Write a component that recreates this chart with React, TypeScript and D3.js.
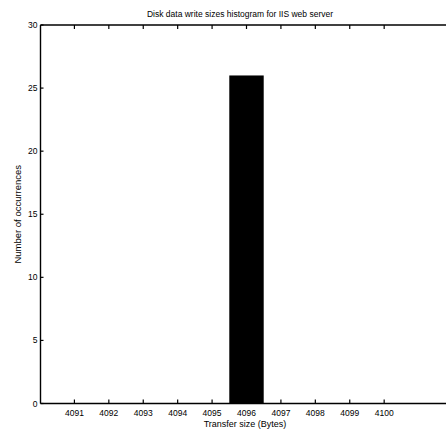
import React from "react";
import * as d3 from "d3";

const binCenters = [4091, 4092, 4093, 4094, 4095, 4096, 4097, 4098, 4099, 4100];
const counts = [0, 0, 0, 0, 0, 26, 0, 0, 0, 0];
const yTicks = [0, 5, 10, 15, 20, 25, 30];
const title = "Disk data write sizes histogram for IIS web server";
const xLabel = "Transfer size (Bytes)";
const yLabel = "Number of occurrences";

const W = 446;
const H = 436;
const left = 40.5;
const top = 25;
const bottom = 403.5;
const rightFull = 453;

export default function App() {
  const x = d3.scaleLinear().domain([4090, 4102]).range([40, rightFull]);
  const y = d3.scaleLinear().domain([0, 30]).range([bottom, top]);
  const font = "'Liberation Sans', Arial, sans-serif";
  return (
    <svg
      width={W}
      height={H}
      style={{ position: "absolute", left: 0, top: 0, background: "#fff" }}
      fontFamily={font}
    >
      <rect x={0} y={0} width={W} height={H} fill="#fff" />
      {binCenters.map((c, i) =>
        counts[i] > 0 ? (
          <rect
            key={c}
            x={x(c - 0.5)}
            y={y(counts[i])}
            width={x(c + 0.5) - x(c - 0.5)}
            height={y(0) - y(counts[i])}
            fill="#000"
          />
        ) : null
      )}
      {/* frame */}
      <line x1={left} x2={W} y1={top} y2={top} stroke="#000" strokeWidth={1.4} />
      <line x1={left} x2={W} y1={bottom} y2={bottom} stroke="#000" strokeWidth={1.4} />
      <line x1={left} x2={left} y1={top} y2={bottom} stroke="#000" strokeWidth={1.4} />
      {/* x ticks */}
      {binCenters.map((c) => (
        <g key={"xt" + c}>
          <line x1={x(c)} x2={x(c)} y1={bottom} y2={bottom - 4} stroke="#000" strokeWidth={1.2} />
          <line x1={x(c)} x2={x(c)} y1={top} y2={top + 4} stroke="#000" strokeWidth={1.2} />
          <text x={x(c)} y={416} fontSize={8.5} textAnchor="middle" fill="#000">
            {c}
          </text>
        </g>
      ))}
      {/* y ticks */}
      {yTicks.map((t) => (
        <g key={"yt" + t}>
          <line x1={left} x2={left + 3} y1={y(t)} y2={y(t)} stroke="#000" strokeWidth={1.2} />
          <text x={37.5} y={y(t) + 3} fontSize={8.5} textAnchor="end" fill="#000">
            {t}
          </text>
        </g>
      ))}
      <text x={240} y={17} fontSize={8.5} textAnchor="middle" fill="#000">
        {title}
      </text>
      <text x={245} y={427} fontSize={9} textAnchor="middle" fill="#000">
        {xLabel}
      </text>
      <text
        transform={`translate(21,${(top + bottom) / 2}) rotate(-90)`}
        fontSize={9.5}
        textAnchor="middle"
        fill="#000"
      >
        {yLabel}
      </text>
    </svg>
  );
}
